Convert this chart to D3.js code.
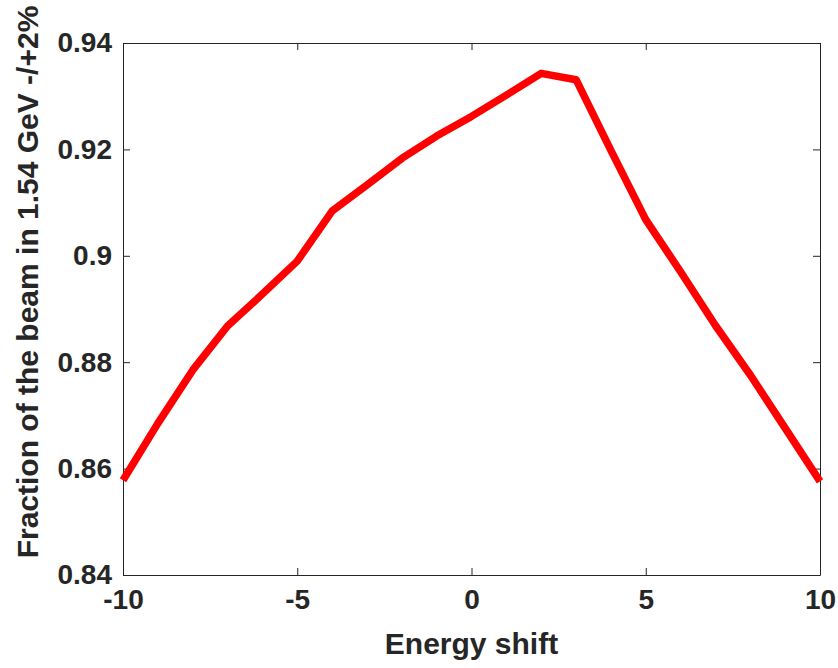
<!DOCTYPE html>
<html>
<head>
<meta charset="utf-8">
<script src="https://cdn.jsdelivr.net/npm/d3@7"></script>
<style>
  body { margin: 0; background: #fff; }
  text { font-family: "Liberation Sans", Arial, sans-serif; font-weight: bold; fill: #262626; }
</style>
</head>
<body>
<div id="chart"></div>
<script>
// Energy shift vs fraction of beam
const shifts = [-10, -9, -8, -7, -6, -5, -4, -3, -2, -1, 0, 1, 2, 3, 4, 5, 6, 7, 8, 9, 10];
const fractions = [0.8578, 0.8685, 0.8785, 0.8868, 0.8928, 0.8990, 0.9084, 0.9133, 0.9183, 0.9225, 0.9262,
                   0.9302, 0.9343, 0.9331, 0.9198, 0.9068, 0.8970, 0.8869, 0.8776, 0.8676, 0.8576];
const xTicks = [-10, -5, 0, 5, 10];
const yTicks = [0.84, 0.86, 0.88, 0.9, 0.92, 0.94];

const width = 838, height = 668;
const margin = { top: 43, right: 18, bottom: 93, left: 123 };
const iw = width - margin.left - margin.right;
const ih = height - margin.top - margin.bottom;

const svg = d3.select('#chart').append('svg')
    .attr('width', width)
    .attr('height', height);

const g = svg.append('g').attr('transform', `translate(${margin.left},${margin.top})`);

const x = d3.scaleLinear().domain([-10, 10]).range([0, iw]);
const y = d3.scaleLinear().domain([0.84, 0.94]).range([ih, 0]);

const axisColor = '#262626';
const tickLen = 7;

// Ticks on all four sides, pointing inward
function styleAxis(sel) {
    sel.select('.domain').attr('stroke', axisColor).attr('stroke-width', 1);
    sel.selectAll('.tick line').attr('stroke', axisColor).attr('stroke-width', 1);
    sel.selectAll('text').attr('font-size', 28).attr('fill', axisColor);
}

g.append('g')
    .attr('transform', `translate(0,${ih})`)
    .call(d3.axisBottom(x).tickValues(xTicks).tickSizeInner(-tickLen).tickSizeOuter(0).tickPadding(14).tickFormat(d => String(d)))
    .call(styleAxis);

g.append('g')
    .call(d3.axisTop(x).tickValues(xTicks).tickSizeInner(-tickLen).tickSizeOuter(0).tickFormat(''))
    .call(styleAxis);

g.append('g')
    .call(d3.axisLeft(y).tickValues(yTicks).tickSizeInner(-tickLen).tickSizeOuter(0).tickPadding(11).tickFormat(d => String(+d.toFixed(2))))
    .call(styleAxis);

g.append('g')
    .attr('transform', `translate(${iw},0)`)
    .call(d3.axisRight(y).tickValues(yTicks).tickSizeInner(-tickLen).tickSizeOuter(0).tickFormat(''))
    .call(styleAxis);

// Data line
const line = d3.line()
    .x((d, i) => x(shifts[i]))
    .y(d => y(d));

g.append('path')
    .datum(fractions)
    .attr('fill', 'none')
    .attr('stroke', '#ff0000')
    .attr('stroke-width', 7.5)
    .attr('stroke-linejoin', 'round')
    .attr('d', line);

// Axis titles
svg.append('text')
    .attr('x', margin.left + iw / 2)
    .attr('y', 654)
    .attr('text-anchor', 'middle')
    .attr('font-size', 30)
    .text('Energy shift');

svg.append('text')
    .attr('transform', `translate(38,282) rotate(-90)`)
    .attr('text-anchor', 'middle')
    .attr('font-size', 30)
    .text('Fraction of the beam in 1.54 GeV -/+2%');
</script>
</body>
</html>
